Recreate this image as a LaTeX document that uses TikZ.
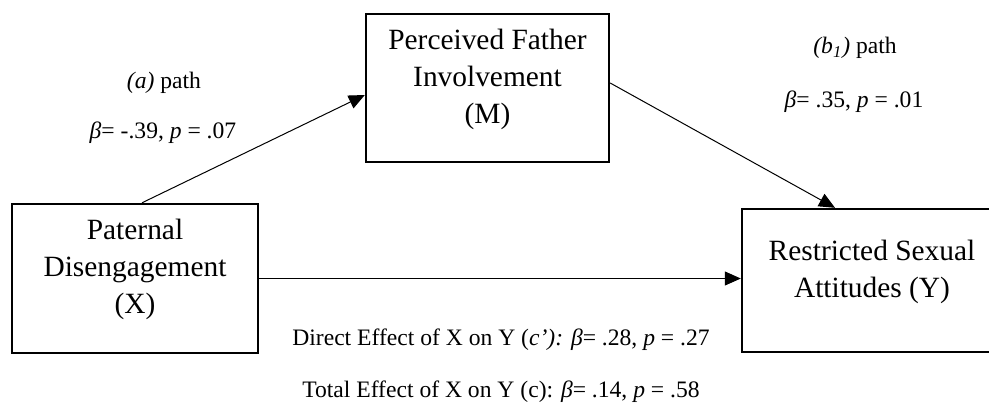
\documentclass[tikz,border=0pt]{standalone}
\usepackage{fontspec}
\setmainfont{Liberation Serif}
\usetikzlibrary{calc,arrows.meta}
\newcommand{\boxlines}[1]{\raisebox{4.5pt}[\height][\depth]{\begin{tabular}{@{}c@{}}#1\end{tabular}}}

\begin{document}
\begin{tikzpicture}[x=0.5pt,y=-0.5pt,
  var/.style={draw,line width=1.2pt,inner sep=0pt,font=\fontsize{14.7}{18.5}\selectfont},
  path/.style={line width=0.5pt,-{Triangle[length=8pt,width=7pt]}},
  est/.style={font=\fontsize{11.8}{14}\selectfont}]
\useasboundingbox (0,0) rectangle (989,402);
\node[var,minimum width=123pt,minimum height=74.5pt] (dis) at (135,278.5) {\boxlines{Paternal\\Disengagement\\(X)}};
\node[var,minimum width=121.5pt,minimum height=74pt] (inv) at (487.5,88) {\boxlines{Perceived Father\\Involvement\\(M)}};
% box runs off the right edge
\node[var,minimum width=150pt,minimum height=71.5pt] (att) at (892,280.5) {\hspace*{-20pt}\boxlines{Restricted Sexual\\Attitudes (Y)}};
\draw[path] ([xshift=3.5pt]dis.north) -- ([yshift=-3.5pt]inv.west);
\draw[path] ([yshift=2.5pt]inv.east) -- ([xshift=-28.5pt]att.north);
\draw[path] (dis.east) -- (dis.east -| att.west);
\node[est] (apath) at (164,83) {\textit{(a)} path};
\node[est] (aval) at (163,133) {\textit{β}= -.39, \textit{p} = .07};
\node[est] (bpath) at (855,48) {\textit{(b\textsubscript{1})} path};
\node[est] (bval) at (854,102) {\textit{β}= .35, \textit{p} = .01};
\node[est] (direct) at (501,340) {Direct Effect of X on Y (\textit{c’): β}= .28, \textit{p} = .27};
\node[est] (total) at (501,392) {Total Effect of X on Y (c): \textit{β}= .14, \textit{p} = .58};
\end{tikzpicture}
\end{document}
